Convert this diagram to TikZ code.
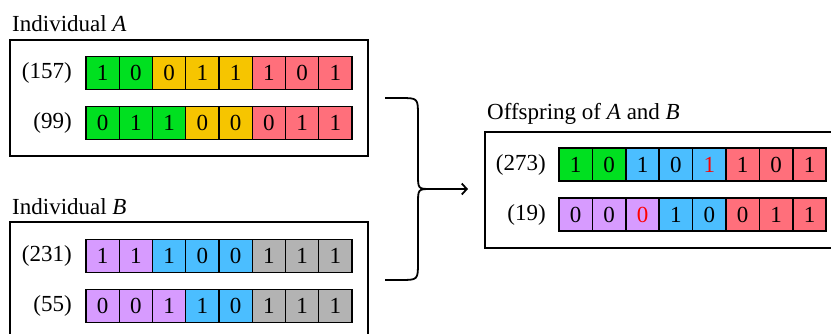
\documentclass[tikz,border=0pt]{standalone}
\usepackage{fontspec}
\setmainfont{Liberation Serif}
\usetikzlibrary{arrows.meta}
\definecolor{geneG}{HTML}{00E020}
\definecolor{geneY}{HTML}{F6C500}
\definecolor{geneR}{HTML}{FF6F7B}
\definecolor{geneP}{HTML}{D79BFF}
\definecolor{geneB}{HTML}{4BBEFF}
\definecolor{geneS}{HTML}{B3B3B3}
\begin{document}
\begin{tikzpicture}[
  x = 1pt,
  y = -1pt,
  every node/.style = {
    font = \fontsize{23}{28}\selectfont
  },
  cell/.style = {
    draw = black,
    line width = 1.4pt,
    minimum width = 33.3pt,
    minimum height = 33.3pt,
    inner sep = 0pt,
    outer sep = 0pt
  },
  frame/.style = {
    draw = black,
    line width = 2pt
  },
  value/.style = {
    anchor = east,
    inner sep = 0pt
  },
  title/.style = {
    anchor = base west,
    inner sep = 0pt
  },
  brace/.style = {
    line width = 1.8pt
  }
]
  \useasboundingbox (0, 0) rectangle (831, 333);

  \draw[frame] (10, 40) rectangle (368, 156);
  \draw[frame] (10, 222) rectangle (368, 338);
  \draw[frame] (485, 132) rectangle (843, 248);

  \node[title] (titleA) at (12, 31) {Individual \textit{A}};
  \node[title] (titleB) at (12, 214) {Individual \textit{B}};
  \node[title] (titleC) at (487, 119) {Offspring of \textit{A} and \textit{B}};

  \node[value] (valA1) at (72, 73) {(157)};
  \node[value] (valA2) at (72, 123) {(99)};
  \node[value] (valB1) at (72, 256) {(231)};
  \node[value] (valB2) at (72, 306) {(55)};
  \node[value] (valC1) at (546, 164.5) {(273)};
  \node[value] (valC2) at (546, 214.5) {(19)};

  \foreach \b/\c/\t [count = \i] in {1/geneG/black, 0/geneG/black, 0/geneY/black, 1/geneY/black,
      1/geneY/black, 1/geneR/black, 0/geneR/black, 1/geneR/black}
    \node[cell, fill = \c, text = \t] (a1-\i) at ({86 + 33.25*(\i - 0.5)}, 73) {\b};
  \foreach \b/\c/\t [count = \i] in {0/geneG/black, 1/geneG/black, 1/geneG/black, 0/geneY/black,
      0/geneY/black, 0/geneR/black, 1/geneR/black, 1/geneR/black}
    \node[cell, fill = \c, text = \t] (a2-\i) at ({86 + 33.25*(\i - 0.5)}, 123) {\b};
  \foreach \b/\c/\t [count = \i] in {1/geneP/black, 1/geneP/black, 1/geneB/black, 0/geneB/black,
      0/geneB/black, 1/geneS/black, 1/geneS/black, 1/geneS/black}
    \node[cell, fill = \c, text = \t] (b1-\i) at ({86 + 33.25*(\i - 0.5)}, 256) {\b};
  \foreach \b/\c/\t [count = \i] in {0/geneP/black, 0/geneP/black, 1/geneP/black, 1/geneB/black,
      0/geneB/black, 1/geneS/black, 1/geneS/black, 1/geneS/black}
    \node[cell, fill = \c, text = \t] (b2-\i) at ({86 + 33.25*(\i - 0.5)}, 306) {\b};
  \foreach \b/\c/\t [count = \i] in {1/geneG/black, 0/geneG/black, 1/geneB/black, 0/geneB/black,
      1/geneB/red, 1/geneR/black, 0/geneR/black, 1/geneR/black}
    \node[cell, fill = \c, text = \t] (c1-\i) at ({559 + 33.4*(\i - 0.5)}, 164.5) {\b};
  \foreach \b/\c/\t [count = \i] in {0/geneP/black, 0/geneP/black, 0/geneP/red, 1/geneB/black,
      0/geneB/black, 0/geneR/black, 1/geneR/black, 1/geneR/black}
    \node[cell, fill = \c, text = \t] (c2-\i) at ({559 + 33.4*(\i - 0.5)}, 214.5) {\b};

  \coordinate (top) at (385, 98);
  \coordinate (bot) at (385, 280);
  \coordinate (tip) at (431, 189);
  \coordinate (head) at (468, 189);

  \draw[brace] (top) -- (400, 98) .. controls (418, 98) .. (418, 116) -- (418, 174)
    .. controls (418, 189) .. (tip);
  \draw[brace] (bot) -- (400, 280) .. controls (418, 280) .. (418, 262) -- (418, 204)
    .. controls (418, 189) .. (tip);
  \draw[brace, -{Straight Barb[length=5pt, width=11pt]}] (tip) -- (head);
\end{tikzpicture}
\end{document}
